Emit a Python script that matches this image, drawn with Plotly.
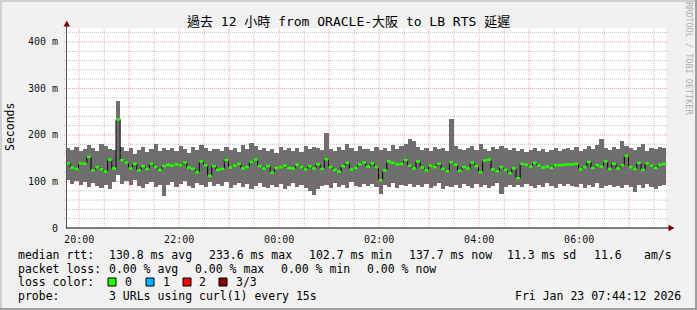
import plotly.graph_objects as go
from datetime import datetime, timedelta

# ---------------- data ----------------
START = datetime(2026, 1, 22, 19, 44, 12)
STEP_MIN = 5

median_ms = [
    139, 130, 127, 139, 138, 153, 124, 131, 126, 121, 147, 128,
    233.6, 146, 141, 128, 138, 124, 133, 127, 138, 131, 125, 133,
    136, 134, 137, 135, 141, 130, 127, 120, 143, 135, 112, 133,
    125, 127, 146, 130, 134, 138, 128, 131, 142, 147, 133, 128,
    133, 119, 129, 131, 134, 129, 128, 136, 131, 126, 133, 128,
    137, 127, 148, 131, 125, 121, 133, 140, 126, 129, 137, 141,
    132, 139, 131, 102.7, 124, 143, 140, 137, 138, 146, 134, 128,
    143, 130, 124, 134, 131, 138, 127, 122, 141, 136, 123, 131,
    128, 141, 133, 120, 145, 147, 126, 122, 131, 125, 118, 128,
    107, 138, 136, 132, 140, 134, 130, 132, 129, 135, 135, 136,
    137, 137, 138, 126, 131, 142, 129, 135, 132, 143, 127, 138,
    128, 135, 155, 131, 127, 140, 125, 139, 134, 129, 136, 137.7,
]
max_ms = [
    172, 168, 175, 166, 170, 178, 173, 165, 180, 176, 170, 168,
    272, 175, 165, 172, 160, 168, 175, 163, 170, 180, 166, 171,
    168, 172, 165, 176, 170, 162, 174, 168, 178, 171, 165, 169,
    170, 166, 175, 168, 172, 164, 178, 170, 183, 176, 168, 172,
    165, 170, 162, 175, 168, 173, 166, 171, 164, 177, 169, 174,
    172, 168, 205, 170, 165, 175, 168, 180, 172, 166, 176, 170,
    170, 166, 174, 168, 172, 165, 178, 170, 176, 180, 192, 187,
    175, 168, 171, 165, 174, 169, 172, 166, 234, 177, 170, 168,
    172, 176, 168, 180, 170, 165, 174, 169, 176, 171, 167, 173,
    166, 170, 164, 168, 172, 165, 170, 163, 168, 171, 166, 169,
    172, 168, 174, 166, 170, 176, 169, 178, 191, 173, 168, 175,
    170, 188, 176, 172, 168, 174, 180, 166, 172, 169, 175, 171,
]
min_ms = [
    104, 95, 100, 92, 98, 88, 96, 90, 86, 93, 84, 98,
    114, 95, 100, 92, 104, 90, 86, 95, 99, 88, 93, 69,
    92, 98, 88, 95, 101, 90, 85, 96, 93, 88, 99, 91,
    94, 90, 99, 86, 92, 97, 88, 95, 84, 90, 96, 89,
    86, 92, 88, 95, 83, 90, 97, 88, 92, 85, 80, 71,
    84, 90, 93, 87, 96, 89, 92, 86, 98, 90, 88, 94,
    90, 95, 88, 74, 93, 89, 96, 87, 92, 90, 94, 88,
    92, 88, 95, 86, 90, 97, 84, 91, 88, 93, 87, 95,
    90, 86, 94, 88, 92, 85, 90, 96, 74, 88, 93, 89,
    92, 88, 95, 90, 86, 93, 89, 96, 91, 87, 94, 90,
    94, 90, 88, 95, 86, 92, 89, 97, 85, 91, 93, 88,
    90, 86, 93, 88, 78, 92, 87, 95, 89, 84, 91, 93,
]

x_tick_hours = ["2026-01-22 20:00", "2026-01-22 21:00", "2026-01-22 22:00", "2026-01-22 23:00",
                "2026-01-23 00:00", "2026-01-23 01:00", "2026-01-23 02:00", "2026-01-23 03:00",
                "2026-01-23 04:00", "2026-01-23 05:00", "2026-01-23 06:00", "2026-01-23 07:00"]
x_tick_text = ["20:00", "", "22:00", "", "00:00", "", "02:00", "", "04:00", "", "06:00", ""]
y_tick_vals = [0, 100, 200, 300, 400]
y_tick_text = ["0", "100 m", "200 m", "300 m", "400 m"]

title_text = "過去 12 小時 from ORACLE-大阪 to LB RTS 延遲"
legend_rows = [
    [(16, "median rtt:"), (107, "130.8 ms avg"), (207, "233.6 ms max"), (307, "102.7 ms min"),
     (407, "137.7 ms now"), (505, "11.3 ms sd"), (592, "11.6"), (642, "am/s")],
    [(16, "packet loss:"), (107, "0.00 % avg"), (193, "0.00 % max"), (279, "0.00 % min"),
     (365, "0.00 % now")],
    [(16, "loss color:"), (123, "0"), (161, "1"), (197, "2"), (234, "3/3")],
    [(16, "probe:"), (107, "3 URLs using curl(1) every 15s"), (513, "Fri Jan 23 07:44:12 2026")],
]
loss_colors = ["#26ff00", "#00b4ff", "#ff0000", "#8c0000"]
loss_box_x = [108, 146, 183, 219]

# ---------------- layout geometry (pixels) ----------------
W, H = 697, 310
PL, PR, PT, PB = 66, 666, 28, 228
Y_MAX = 430

def px_x(px):
    return (px - PL) / (PR - PL)

def px_y(py):
    return (PB - py) / (PB - PT)

n = len(median_ms)
starts = [START + timedelta(minutes=STEP_MIN * i) for i in range(n)]
centers = [s + timedelta(minutes=STEP_MIN / 2) for s in starts]
END = START + timedelta(minutes=STEP_MIN * n)

fig = go.Figure()
fig.add_trace(go.Bar(
    x=centers, base=min_ms, y=[a - b for a, b in zip(max_ms, min_ms)],
    width=STEP_MIN * 60000, marker=dict(color="#6e6e6e", line=dict(width=0)),
    hoverinfo="skip"))
fig.add_trace(go.Scatter(
    x=starts + [END], y=median_ms + [median_ms[-1]], mode="lines",
    line=dict(color="#000000", width=1, shape="hv"), hoverinfo="skip"))
gx, gy = [], []
for s, m in zip(starts, median_ms):
    gx += [s, s + timedelta(minutes=STEP_MIN), None]
    gy += [m, m, None]
fig.add_trace(go.Scatter(x=gx, y=gy, mode="lines",
                         line=dict(color=loss_colors[0], width=2.5), hoverinfo="skip"))

shapes = []
# grid (drawn above data like rrdtool)
RED = "rgba(235,70,70,0.5)"
GRAY = "rgba(120,120,120,0.45)"
t = datetime(2026, 1, 22, 20, 0)
while t < END:
    major = t.minute == 0
    shapes.append(dict(type="line", xref="x", yref="paper", x0=t, x1=t, y0=0, y1=1,
                       line=dict(color=RED if major else GRAY, width=1, dash="1px,1px"),
                       layer="above"))
    t += timedelta(minutes=30)
for v in range(20, Y_MAX, 20):
    major = v % 100 == 0
    shapes.append(dict(type="line", xref="paper", yref="y", x0=px_x(PL - 2), x1=px_x(668), y0=v, y1=v,
                       line=dict(color=RED if major else GRAY, width=1, dash="1px,1px"),
                       layer="above"))
# axes lines and arrows
shapes.append(dict(type="line", xref="paper", yref="paper", x0=px_x(66.5), x1=px_x(66.5),
                   y0=0, y1=px_y(24), line=dict(color="#505050", width=1), layer="above"))
shapes.append(dict(type="line", xref="paper", yref="paper", x0=px_x(66), x1=px_x(670),
                   y0=0, y1=0, line=dict(color="#000000", width=1), layer="above"))
shapes.append(dict(type="path", xref="paper", yref="paper",
                   path=f"M {px_x(63.5)},{px_y(26.5)} L {px_x(70)},{px_y(26.5)} L {px_x(66.8)},{px_y(20.5)} Z",
                   fillcolor="#7f0000", line=dict(width=0), layer="above"))
shapes.append(dict(type="path", xref="paper", yref="paper",
                   path=f"M {px_x(668.5)},{px_y(224.8)} L {px_x(668.5)},{px_y(231.2)} L {px_x(674.5)},{px_y(228)} Z",
                   fillcolor="#7f0000", line=dict(width=0), layer="above"))
# loss colour boxes
for c, bx in zip(loss_colors, loss_box_x):
    shapes.append(dict(type="rect", xref="paper", yref="paper",
                       x0=px_x(bx), x1=px_x(bx + 8), y0=px_y(286), y1=px_y(278),
                       fillcolor=c, line=dict(color="#000000", width=1), layer="above"))
# frame
shapes.append(dict(type="rect", xref="paper", yref="paper", x0=px_x(0), x1=px_x(W), y0=px_y(0), y1=px_y(2),
                   fillcolor="#cfcfcf", line=dict(width=0), layer="above"))
shapes.append(dict(type="rect", xref="paper", yref="paper", x0=px_x(0), x1=px_x(2), y0=px_y(0), y1=px_y(H),
                   fillcolor="#cfcfcf", line=dict(width=0), layer="above"))
shapes.append(dict(type="rect", xref="paper", yref="paper", x0=px_x(0), x1=px_x(W), y0=px_y(H - 2), y1=px_y(H),
                   fillcolor="#9e9e9e", line=dict(width=0), layer="above"))
shapes.append(dict(type="rect", xref="paper", yref="paper", x0=px_x(W - 2), x1=px_x(W), y0=px_y(0), y1=px_y(H),
                   fillcolor="#9e9e9e", line=dict(width=0), layer="above"))

MONO = "DejaVu Sans Mono"
annotations = [
    dict(text=title_text, x=px_x(348), y=px_y(21.5), xref="paper", yref="paper",
         xanchor="center", yanchor="middle", showarrow=False,
         font=dict(family=MONO + ", Noto Sans CJK TC", size=13, color="#000000")),
    dict(text="Seconds", x=px_x(10), y=px_y(127), xref="paper", yref="paper",
         xanchor="center", yanchor="middle", textangle=-90, showarrow=False,
         font=dict(family=MONO, size=11.5, color="#000000")),
    dict(text="RRDTOOL / TOBI OETIKER", x=px_x(688.5), y=px_y(58.5), xref="paper", yref="paper",
         xanchor="center", yanchor="middle", textangle=90, showarrow=False,
         font=dict(family=MONO, size=8.5, color="#b0b0b0")),
]
row_y = [254.5, 268.5, 282, 296]
for ry, row in zip(row_y, legend_rows):
    for lx, txt in row:
        annotations.append(dict(text=txt, x=px_x(lx), y=px_y(ry), xref="paper", yref="paper",
                                xanchor="left", yanchor="middle", showarrow=False,
                                font=dict(family=MONO, size=11.5, color="#000000")))

fig.update_layout(
    width=W, height=H,
    margin=dict(l=PL, r=W - PR, t=PT, b=H - PB, pad=0),
    paper_bgcolor="#f1f1f1", plot_bgcolor="#ffffff",
    showlegend=False, bargap=0,
    shapes=shapes, annotations=annotations,
    xaxis=dict(type="date", range=[START, END], showgrid=False, zeroline=False, showline=False,
               tickmode="array", tickvals=x_tick_hours, ticktext=x_tick_text, ticks="",
               ticklabelstandoff=4,
               tickfont=dict(family=MONO, size=10, color="#111111")),
    yaxis=dict(range=[0, Y_MAX], showgrid=False, zeroline=False, showline=False,
               tickmode="array", tickvals=y_tick_vals, ticktext=y_tick_text, ticks="",
               ticklabelstandoff=7,
               tickfont=dict(family=MONO, size=10, color="#111111")),
)

fig.write_html("out.html")
